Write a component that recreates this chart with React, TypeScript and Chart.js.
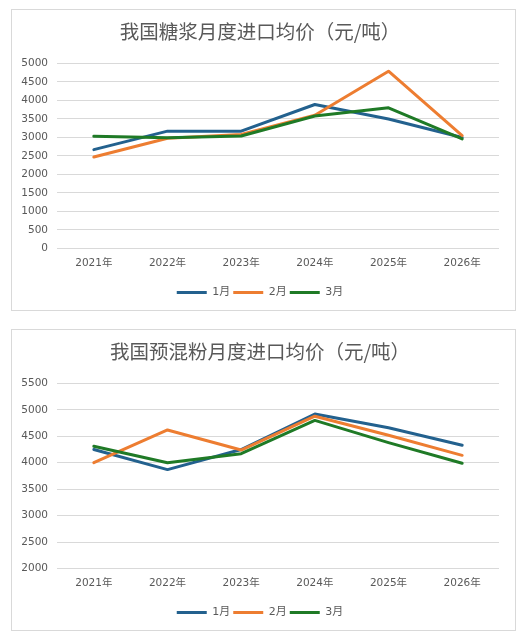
import React, { useEffect, useRef } from 'react';
import { Chart, registerables } from 'chart.js';

Chart.register(...registerables);

const years = ['2021年', '2022年', '2023年', '2024年', '2025年', '2026年'];
const seriesNames = ['1月', '2月', '3月'];
const seriesColors = ['#23618E', '#ED7D31', '#1F7A26'];

// 糖浆
const syrupJan = [2670, 3170, 3170, 3890, 3500, 3000];
const syrupFeb = [2470, 2980, 3080, 3600, 4790, 3050];
const syrupMar = [3030, 2990, 3040, 3580, 3800, 2960];

// 预混粉
const premixJan = [4250, 3870, 4250, 4920, 4660, 4330];
const premixFeb = [4000, 4620, 4240, 4880, 4520, 4140];
const premixMar = [4310, 4000, 4170, 4800, 4380, 3990];

const textColor = '#595959';
const gridColor = '#D9D9D9';
const tickFont = '"DejaVu Sans", "Noto Sans CJK SC", sans-serif';
const cjkFont = '"Noto Sans CJK SC", "DejaVu Sans", sans-serif';

interface LineChartProps {
  title: string;
  series: number[][];
  min: number;
  max: number;
}

function PriceChart({ title, series, min, max }: LineChartProps) {
  const canvasRef = useRef<HTMLCanvasElement>(null);
  const chartRef = useRef<Chart>();

  useEffect(() => {
    if (!canvasRef.current) return;
    if (chartRef.current) chartRef.current.destroy();

    chartRef.current = new Chart(canvasRef.current, {
      type: 'line',
      data: {
        labels: years,
        datasets: series.map((values, i) => ({
          label: seriesNames[i],
          data: values,
          borderColor: seriesColors[i],
          backgroundColor: seriesColors[i],
          borderWidth: 3,
          pointRadius: 0,
          tension: 0,
          fill: false,
          borderJoinStyle: 'round' as const,
          borderCapStyle: 'round' as const,
          order: series.length - i,
        })),
      },
      options: {
        responsive: false,
        animation: false,
        layout: { padding: { left: 9, right: 16, top: 0, bottom: 2 } },
        scales: {
          x: {
            offset: true,
            grid: { display: false },
            border: { display: false },
            ticks: { color: textColor, padding: 0, font: { family: tickFont, size: 10.5 } },
            afterFit: (scale: any) => {
              scale.height = 35.5;
            },
          },
          y: {
            min,
            max,
            grid: { color: gridColor, drawTicks: false },
            border: { display: false },
            ticks: {
              stepSize: 500,
              color: textColor,
              padding: 9,
              font: { family: tickFont, size: 10.5 },
              callback: (value: any) => String(value),
            },
            afterFit: (scale: any) => {
              scale.width = 36;
            },
          },
        },
        plugins: {
          title: {
            display: true,
            text: title,
            color: textColor,
            font: { family: cjkFont, size: 19.5, weight: 'normal', lineHeight: 1.2 },
            padding: { top: 10, bottom: 20 },
          },
          legend: {
            position: 'bottom',
            labels: {
              boxWidth: 30,
              boxHeight: 3,
              padding: 3,
              color: textColor,
              font: { family: tickFont, size: 11 },
              sort: (a: any, b: any) => a.datasetIndex - b.datasetIndex,
              generateLabels: (chart: Chart) =>
                Chart.defaults.plugins.legend.labels
                  .generateLabels(chart)
                  .map((item) => ({ ...item, lineWidth: 0 })),
            },
          },
          tooltip: { enabled: false },
        },
      },
    });

    return () => {
      if (chartRef.current) chartRef.current.destroy();
    };
  }, [title, series, min, max]);

  return <canvas ref={canvasRef} width={503} height={300} style={{ display: 'block' }} />;
}

const boxStyle: React.CSSProperties = {
  width: 503,
  height: 300,
  border: `1px solid ${gridColor}`,
  marginLeft: 3,
  background: '#fff',
};

export default function App() {
  return (
    <div style={{ paddingTop: 1 }}>
      <div style={boxStyle}>
        <PriceChart
          title="我国糖浆月度进口均价（元/吨）"
          series={[syrupJan, syrupFeb, syrupMar]}
          min={0}
          max={5000}
        />
      </div>
      <div style={{ ...boxStyle, marginTop: 18 }}>
        <PriceChart
          title="我国预混粉月度进口均价（元/吨）"
          series={[premixJan, premixFeb, premixMar]}
          min={2000}
          max={5500}
        />
      </div>
    </div>
  );
}
